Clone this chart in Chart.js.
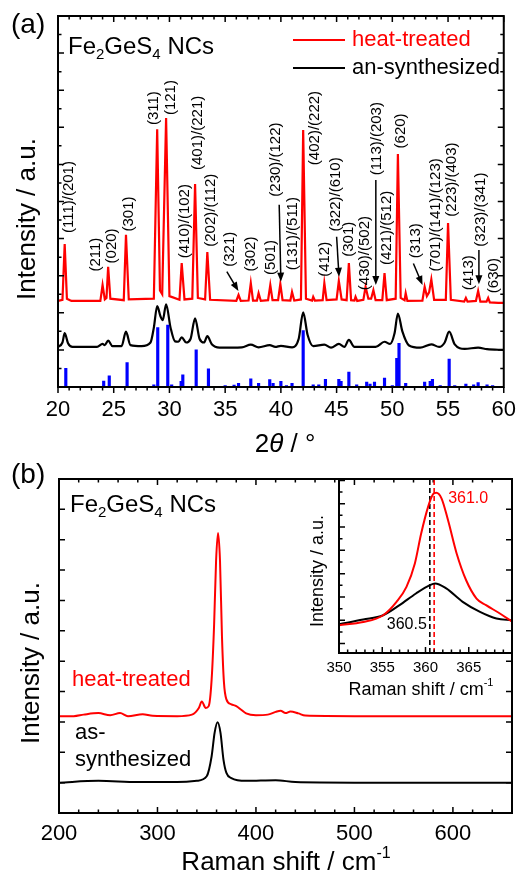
<!DOCTYPE html>
<html>
<head>
<meta charset="utf-8">
<script src="https://cdn.jsdelivr.net/npm/chart.js"></script>
<style>
  body { margin: 0; background: #fff; }
  #wrap { position: relative; width: 526px; height: 875px; overflow: hidden; }
  canvas { position: absolute; }
</style>
</head>
<body>
<div id="wrap">
  <canvas id="xrd" width="526" height="460" style="left:0;top:0"></canvas>
  <canvas id="raman" width="526" height="415" style="left:0;top:460px"></canvas>
  <canvas id="inset" width="226" height="240" style="left:300px;top:470px"></canvas>
</div>
<script>
// ---- panel (a): XRD ----
const heatX = [20.0, 20.4, 20.6, 20.8, 21.2, 23.8, 24.0, 24.2, 24.35, 24.5, 24.7, 25.9, 26.1, 26.35, 28.6, 28.9, 29.15, 29.35, 29.7, 30.0, 30.9, 31.1, 31.35, 32.05, 32.3, 32.55, 33.2, 33.4, 33.65, 36.0, 36.2, 36.4, 37.1, 37.3, 37.5, 37.85, 38.0, 38.2, 38.85, 39.05, 39.25, 39.75, 39.95, 40.15, 40.85, 41.0, 41.2, 41.8, 42.0, 42.25, 42.8, 42.9, 43.05, 43.75, 43.9, 44.1, 45.0, 45.2, 45.45, 45.9, 46.1, 46.3, 46.6, 46.7, 46.85, 47.4, 47.6, 47.85, 48.1, 48.3, 48.5, 49.1, 49.3, 49.5, 50.3, 50.5, 50.75, 51.1, 51.2, 51.35, 52.7, 52.9, 53.1, 53.3, 53.5, 53.75, 54.8, 55.0, 55.25, 56.45, 56.6, 56.75, 57.5, 57.7, 57.9, 58.45, 58.6, 58.75, 59.5, 60.0];
const heatY = [23.2, 23.5, 38.5, 23.8, 23.2, 23.2, 27.5, 23.6, 24.0, 32.4, 23.8, 23.4, 41.0, 23.6, 23.8, 69.5, 26.0, 25.0, 72.5, 24.5, 23.5, 33.4, 23.6, 23.8, 54.7, 24.0, 23.6, 36.4, 23.5, 23.2, 24.8, 23.2, 23.3, 28.0, 23.3, 23.3, 25.3, 23.2, 23.4, 27.5, 23.4, 23.4, 27.8, 23.4, 23.3, 25.6, 23.3, 23.6, 69.3, 23.8, 23.3, 24.3, 23.3, 23.4, 28.0, 23.4, 23.6, 28.6, 23.6, 23.4, 33.4, 23.4, 23.3, 24.3, 23.2, 23.5, 27.0, 23.8, 23.8, 26.1, 23.4, 23.4, 30.7, 23.4, 23.8, 62.8, 24.0, 23.4, 25.3, 23.2, 23.3, 27.0, 24.5, 25.5, 29.0, 23.5, 23.5, 44.2, 23.5, 23.0, 24.0, 23.0, 23.2, 25.9, 23.0, 23.0, 24.0, 22.8, 22.7, 22.7];
const asX = [20.0, 20.4, 20.6, 20.9, 21.3, 23.5, 24.0, 24.2, 24.5, 24.9, 25.7, 26.1, 26.5, 27.5, 28.3, 28.6, 28.9, 29.2, 29.4, 29.7, 30.1, 30.5, 30.8, 31.1, 31.5, 31.9, 32.3, 32.7, 33.1, 33.4, 33.8, 34.5, 36.5, 37.3, 38.0, 39.0, 39.5, 40.0, 41.0, 41.6, 42.0, 42.4, 42.9, 43.9, 44.5, 45.2, 45.7, 46.1, 46.6, 48.5, 49.3, 49.8, 50.2, 50.5, 50.9, 51.5, 52.5, 53.5, 54.2, 54.7, 55.1, 55.6, 56.5, 57.7, 58.5, 60.0];
const asY = [10.8, 12.0, 14.5, 11.8, 10.8, 10.8, 11.6, 11.3, 12.5, 11.0, 11.0, 14.9, 11.3, 11.0, 12.0, 16.0, 21.8, 19.0, 18.0, 22.3, 16.0, 12.3, 12.2, 13.4, 12.0, 13.0, 18.5, 13.0, 12.0, 13.7, 11.5, 10.6, 10.7, 11.4, 10.7, 11.3, 10.8, 11.1, 10.7, 13.0, 20.1, 14.0, 11.0, 11.4, 10.6, 11.6, 10.8, 12.7, 10.8, 10.8, 12.2, 11.6, 14.5, 19.8, 15.0, 11.2, 10.6, 11.5, 10.8, 12.0, 14.9, 11.5, 10.3, 10.6, 10.2, 10.0];
const stickPos = [20.7, 24.1, 24.6, 26.2, 28.6, 28.95, 29.85, 30.2, 31.05, 31.2, 32.4, 33.5, 35.0, 35.8, 36.2, 37.3, 38.0, 39.0, 39.3, 40.0, 40.5, 41.0, 42.0, 42.9, 43.4, 44.0, 45.2, 45.4, 46.1, 46.8, 47.7, 48.0, 48.4, 49.3, 50.0, 50.4, 50.6, 51.2, 52.9, 53.4, 53.6, 54.3, 55.1, 55.6, 56.6, 57.3, 57.7, 58.5, 59.0];
const stickInt = [5, 1.6, 3, 6.6, 0.6, 16, 16.7, 0.6, 1.5, 3.3, 10, 4.9, 0.4, 0.5, 1, 2.2, 1, 2, 1, 1.5, 0.4, 1, 15.2, 0.6, 0.6, 2.1, 2.1, 1.5, 4, 0.6, 1.3, 0.8, 1.3, 2.4, 0.4, 7.7, 11.8, 1, 1.3, 1.5, 2.1, 0.4, 7.5, 0.4, 0.8, 0.6, 1.2, 0.6, 0.4];
const hklText = ['(111)/(201)', '(211)', '(020)', '(301)', '(311)', '(121)', '(410)/(102)', '(401)/(221)', '(202)/(112)', '(321)', '(302)', '(501)', '(230)/(122)', '(131)/(511)', '(402)/(222)', '(412)', '(322)/(610)', '(301)', '(430)/(502)', '(113)/(203)', '(421)/(512)', '(620)', '(313)', '(701)/(141)/(123)', '(223)/(403)', '(413)', '(323)/(341)', '(630)'];
const hklX = [20.97, 23.41, 24.82, 26.34, 28.63, 30.16, 31.34, 32.57, 33.74, 35.39, 37.27, 39.12, 39.56, 41.03, 43.02, 43.96, 44.93, 46.08, 47.55, 48.61, 49.54, 50.81, 52.13, 53.95, 55.36, 56.83, 57.97, 59.09];
const hklY = [41.5, 31.1, 33.3, 41.9, 70.6, 73.3, 34.7, 58.5, 37.8, 32.4, 31.1, 30.2, 51.3, 31.5, 59.8, 29.7, 41.9, 35.1, 26.1, 57.1, 32.9, 64.3, 34.7, 31.1, 45.9, 26.1, 37.8, 25.3];
// arrows: [fromX, fromY, toX, toY]
const hklArrows = [[35.15, 31.1, 36.19, 25.9], [39.85, 49.1, 40.0, 28.4], [45.0, 40.5, 45.22, 29.7], [48.52, 55.8, 48.52, 27.5], [51.89, 33.3, 52.71, 27.5], [57.77, 36.9, 57.77, 27.7]];

// ---- panel (b): Raman ----
const ramHeatX = [200, 215, 225, 240, 252, 262, 270, 285, 295, 320, 335, 342, 345, 349, 352, 355, 357.5, 359.5, 361.5, 363.5, 365.5, 367.5, 370, 375, 380, 385, 390, 400, 412, 420, 425, 430, 435, 443, 450, 500, 600, 660];
const ramHeatY = [31.9, 31.9, 32.4, 32.9, 32.2, 32.9, 31.9, 32.5, 32.0, 31.9, 32.4, 34.6, 36.7, 34.6, 35.2, 44, 62, 83, 92.2, 83, 58, 43, 37.4, 35.8, 35.2, 34, 32.8, 32.2, 32.4, 33.3, 33.7, 32.9, 33.4, 32.8, 32.1, 31.9, 31.9, 31.9];
const ramAsX = [200, 240, 280, 320, 340, 350, 355, 358, 361, 364, 367, 370, 375, 390, 420, 440, 500, 660];
const ramAsY = [10, 10.6, 10.2, 10.2, 10.6, 12.1, 18.7, 26.4, 29.9, 26.4, 17.6, 13.2, 11.5, 10.6, 10.8, 10.2, 10, 10];

// ---- inset ----
const insHeatX = [350, 352.8, 355.1, 356.65, 357.8, 358.77, 359.5, 360.3, 360.9, 361.25, 361.85, 362.6, 363.6, 364.7, 365.9, 367.0, 368.6, 370];
const insHeatY = [16, 17.8, 21.7, 29.4, 38, 51.5, 68.7, 84, 91.4, 92.1, 88.9, 76.4, 57.2, 41.8, 31.3, 27.5, 22.7, 18];
const insAsX = [350, 352.8, 355.1, 357.0, 358.9, 360.5, 361.1, 362.4, 364.3, 366.3, 368.2, 370];
const insAsY = [16.5, 19.2, 21.7, 27.5, 34.2, 39, 40, 37.1, 29.4, 23.6, 19.8, 18.8];
const peakPos = [360.5, 361.0];

const FONT = '"Liberation Sans", Arial, sans-serif';
const pts = (xs, ys) => xs.map((x, i) => ({x, y: ys[i]}));

function rich(ctx, x, y, parts, size, color, align) {
  ctx.save();
  ctx.fillStyle = color;
  ctx.textBaseline = 'middle';
  ctx.textAlign = 'left';
  const fnt = k => (k === 'it' ? 'italic ' : '') + (k === 'sub' || k === 'sup' ? Math.round(size * 0.62) : size) + 'px ' + FONT;
  let w = 0;
  parts.forEach(([t, k]) => { ctx.font = fnt(k); w += ctx.measureText(t).width; });
  let cx = align === 'center' ? x - w / 2 : align === 'right' ? x - w : x;
  parts.forEach(([t, k]) => {
    ctx.font = fnt(k);
    const dy = k === 'sub' ? size * 0.32 : k === 'sup' ? -size * 0.38 : 0;
    ctx.fillText(t, cx, y + dy);
    cx += ctx.measureText(t).width;
  });
  ctx.restore();
}
function richV(ctx, x, y, parts, size, color, align) {
  ctx.save();
  ctx.translate(x, y);
  ctx.rotate(-Math.PI / 2);
  rich(ctx, 0, 0, parts, size, color, align);
  ctx.restore();
}

// frame + inward/outward ticks
const frame = {
  id: 'frame',
  afterDatasetsDraw(chart, args, o) {
    const {ctx, chartArea: a, scales: {x, y}} = chart;
    ctx.save();
    ctx.strokeStyle = '#000';
    ctx.lineWidth = 1.5;
    ctx.beginPath();
    for (let i = 0; o.x[0] + i * o.x[1] <= x.max + 1e-9; i++) {
      const px = x.getPixelForValue(o.x[0] + i * o.x[1]);
      const len = i % o.x[2] === 0 ? 6 : 3.5;
      const d = o.bottomOut ? len : -len;
      ctx.moveTo(px, a.bottom); ctx.lineTo(px, a.bottom + d);
      if (o.top) { ctx.moveTo(px, a.top); ctx.lineTo(px, a.top + len); }
    }
    for (let i = 0; o.y[0] + i * o.y[1] <= y.max + 1e-9; i++) {
      const py = y.getPixelForValue(o.y[0] + i * o.y[1]);
      const len = i % o.y[2] === 0 ? 6 : 3.5;
      ctx.moveTo(a.left, py); ctx.lineTo(a.left + len, py);
      if (o.right) { ctx.moveTo(a.right, py); ctx.lineTo(a.right - len, py); }
    }
    ctx.stroke();
    ctx.lineWidth = 2;
    ctx.strokeRect(a.left, a.top, a.right - a.left, a.bottom - a.top);
    ctx.restore();
  }
};

function arrow(ctx, x1, y1, x2, y2) {
  const ang = Math.atan2(y2 - y1, x2 - x1);
  ctx.beginPath();
  ctx.moveTo(x1, y1);
  ctx.lineTo(x2 - 6 * Math.cos(ang), y2 - 6 * Math.sin(ang));
  ctx.stroke();
  ctx.beginPath();
  ctx.moveTo(x2, y2);
  ctx.lineTo(x2 - 9 * Math.cos(ang) + 3.5 * Math.sin(ang), y2 - 9 * Math.sin(ang) - 3.5 * Math.cos(ang));
  ctx.lineTo(x2 - 9 * Math.cos(ang) - 3.5 * Math.sin(ang), y2 - 9 * Math.sin(ang) + 3.5 * Math.cos(ang));
  ctx.closePath();
  ctx.fill();
}

const baseOpts = {
  responsive: false,
  animation: false,
  events: [],
  plugins: {legend: {display: false}, tooltip: {enabled: false}}
};
const tickFont = size => ({size, family: FONT});

// ---------- chart (a) ----------
new Chart(document.getElementById('xrd'), {
  type: 'line',
  data: {
    datasets: [
      {type: 'bar', data: pts(stickPos, stickInt), backgroundColor: '#0000ff', barThickness: 2.5},
      {data: pts(asX, asY), borderColor: '#000000', borderWidth: 2.2, pointRadius: 0, cubicInterpolationMode: 'monotone'},
      {data: pts(heatX, heatY), borderColor: '#ff0000', borderWidth: 2.2, pointRadius: 0, tension: 0}
    ]
  },
  options: {
    ...baseOpts,
    layout: {padding: {left: 58, top: 16, right: 14, bottom: 0}},
    scales: {
      x: {type: 'linear', min: 20, max: 60, offset: false,
          afterFit: s => { s.height = 73; },
          border: {display: false}, grid: {display: false, drawTicks: false},
          ticks: {stepSize: 5, font: tickFont(22), color: '#000', padding: 10, maxRotation: 0}},
      y: {display: false, min: 0, max: 100}
    },
    plugins: {...baseOpts.plugins, frame: {x: [20, 1, 5], y: [0, 5, 2], bottomOut: true, top: true, right: true}}
  },
  plugins: [frame, {
    id: 'notesA',
    afterDraw(chart) {
      const {ctx, scales: {x, y}} = chart;
      rich(ctx, 11, 25, [['(a)', 'n']], 28, '#000', 'left');
      rich(ctx, 68, 47, [['Fe', 'n'], ['2', 'sub'], ['GeS', 'n'], ['4', 'sub'], [' NCs', 'n']], 24, '#000', 'left');
      ctx.save();
      ctx.lineWidth = 2.2;
      ctx.strokeStyle = '#ff0000';
      ctx.beginPath(); ctx.moveTo(293, 40); ctx.lineTo(345, 40); ctx.stroke();
      ctx.strokeStyle = '#000';
      ctx.beginPath(); ctx.moveTo(293, 68); ctx.lineTo(345, 68); ctx.stroke();
      ctx.restore();
      rich(ctx, 352, 40, [['heat-treated', 'n']], 22, '#ff0000', 'left');
      rich(ctx, 352, 68, [['an-synthesized', 'n']], 22, '#000', 'left');
      richV(ctx, 28, 219, [['Intensity / a.u.', 'n']], 26, '#000', 'center');
      rich(ctx, 285, 445, [['2', 'n'], ['\u03b8', 'it'], [' / \u00b0', 'n']], 26, '#000', 'center');
      hklText.forEach((t, i) => {
        richV(ctx, x.getPixelForValue(hklX[i]), y.getPixelForValue(hklY[i]), [[t, 'n']], 15, '#000', 'left');
      });
      ctx.save();
      ctx.strokeStyle = '#000'; ctx.fillStyle = '#000'; ctx.lineWidth = 1.5;
      hklArrows.forEach(([a, b, c, d]) => arrow(ctx, x.getPixelForValue(a), y.getPixelForValue(b), x.getPixelForValue(c), y.getPixelForValue(d)));
      ctx.restore();
    }
  }]
});

// ---------- chart (b) ----------
new Chart(document.getElementById('raman'), {
  type: 'line',
  data: {
    datasets: [
      {data: pts(ramAsX, ramAsY), borderColor: '#000000', borderWidth: 2, pointRadius: 0, cubicInterpolationMode: 'monotone'},
      {data: pts(ramHeatX, ramHeatY), borderColor: '#ff0000', borderWidth: 2, pointRadius: 0, cubicInterpolationMode: 'monotone'}
    ]
  },
  options: {
    ...baseOpts,
    layout: {padding: {left: 59, top: 19, right: 14, bottom: 0}},
    scales: {
      x: {type: 'linear', min: 200, max: 660, offset: false,
          afterFit: s => { s.height = 62; },
          border: {display: false}, grid: {display: false, drawTicks: false},
          ticks: {stepSize: 100, includeBounds: false, font: tickFont(22), color: '#000', padding: 8, maxRotation: 0}},
      y: {display: false, min: 0, max: 110}
    },
    plugins: {...baseOpts.plugins, frame: {x: [200, 20, 5], y: [0, 10, 1], bottomOut: false, top: true, right: true}}
  },
  plugins: [frame, {
    id: 'notesB',
    afterDraw(chart) {
      const {ctx} = chart;
      rich(ctx, 11, 15, [['(b)', 'n']], 28, '#000', 'left');
      rich(ctx, 70, 45, [['Fe', 'n'], ['2', 'sub'], ['GeS', 'n'], ['4', 'sub'], [' NCs', 'n']], 24, '#000', 'left');
      rich(ctx, 72, 220, [['heat-treated', 'n']], 22, '#ff0000', 'left');
      rich(ctx, 75, 273, [['as-', 'n']], 22, '#000', 'left');
      rich(ctx, 75, 300, [['synthesized', 'n']], 22, '#000', 'left');
      richV(ctx, 32, 203, [['Intensity / a.u.', 'n']], 26, '#000', 'center');
      rich(ctx, 286, 403, [['Raman shift / cm', 'n'], ['-1', 'sup']], 26, '#000', 'center');
    }
  }]
});

// ---------- inset ----------
new Chart(document.getElementById('inset'), {
  type: 'line',
  data: {
    datasets: [
      {data: pts(insHeatX, insHeatY), borderColor: '#ff0000', borderWidth: 2, pointRadius: 0, cubicInterpolationMode: 'monotone'},
      {data: pts(insAsX, insAsY), borderColor: '#000000', borderWidth: 2, pointRadius: 0, cubicInterpolationMode: 'monotone'}
    ]
  },
  options: {
    ...baseOpts,
    layout: {padding: {left: 39, top: 9, right: 14, bottom: 0}},
    scales: {
      x: {type: 'linear', min: 350, max: 370, offset: false,
          afterFit: s => { s.height = 57; },
          border: {display: false}, grid: {display: false, drawTicks: false},
          ticks: {stepSize: 5, font: tickFont(15), color: '#000', padding: 6, maxRotation: 0,
                  callback: v => (v === 370 ? '' : v)}},
      y: {display: false, min: 0, max: 100}
    },
    plugins: {...baseOpts.plugins, frame: {x: [350, 1, 5], y: [5.4, 6.7, 2], bottomOut: false, top: false, right: false}}
  },
  plugins: [{
    id: 'marks',
    beforeDatasetsDraw(chart) {
      const {ctx, chartArea: a, scales: {x}} = chart;
      ctx.save();
      ctx.lineWidth = 1.6;
      ctx.setLineDash([5, 3]);
      ['#000000', '#ff0000'].forEach((c, i) => {
        const px = x.getPixelForValue(peakPos[i]);
        ctx.strokeStyle = c;
        ctx.beginPath(); ctx.moveTo(px, a.bottom); ctx.lineTo(px, a.top); ctx.stroke();
      });
      ctx.restore();
    }
  }, frame, {
    id: 'notesC',
    afterDraw(chart) {
      const {ctx, scales: {x}} = chart;
      rich(ctx, x.getPixelForValue(peakPos[1]) + 14, 29, [[peakPos[1].toFixed(1), 'n']], 16, '#ff0000', 'left');
      rich(ctx, x.getPixelForValue(peakPos[0]) - 3, 155, [[peakPos[0].toFixed(1), 'n']], 16, '#000', 'right');
      richV(ctx, 18, 101, [['Intensity / a.u.', 'n']], 18, '#000', 'center');
      rich(ctx, 121, 220, [['Raman shift / cm', 'n'], ['-1', 'sup']], 18, '#000', 'center');
    }
  }]
});
</script>
</body>
</html>
